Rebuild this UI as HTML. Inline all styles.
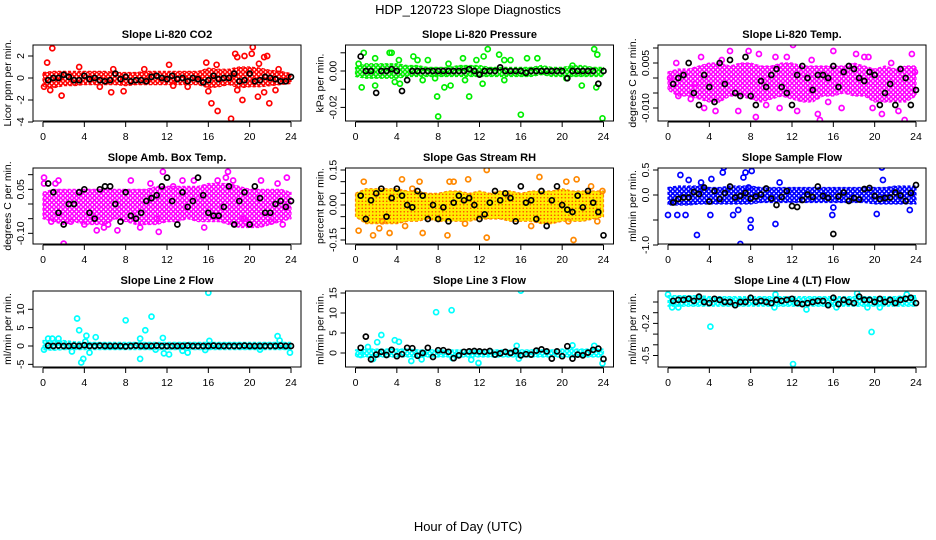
<!DOCTYPE html>
<html><head><meta charset="utf-8"><title>HDP_120723 Slope Diagnostics</title>
<style>
html,body{margin:0;padding:0;background:#fff;}
svg{display:block;font-family:"Liberation Sans",sans-serif;}
</style></head>
<body>
<svg id="chart" width="936" height="540" viewBox="0 0 936 540" xmlns="http://www.w3.org/2000/svg">
<defs>
<pattern id="pat-red" width="4.5" height="4.5" patternUnits="userSpaceOnUse"><circle cx="2.25" cy="2.25" r="1.7" fill="none" stroke="#ff0000" stroke-width="1.5"/></pattern>
<pattern id="pat-green" width="4.5" height="4.5" patternUnits="userSpaceOnUse"><circle cx="2.25" cy="2.25" r="1.7" fill="none" stroke="#00ee00" stroke-width="1.5"/><rect x="2" y="2" width="0.6" height="0.6" fill="#444"/></pattern>
<pattern id="pat-magenta" width="4.5" height="4.5" patternUnits="userSpaceOnUse"><circle cx="2.25" cy="2.25" r="1.7" fill="none" stroke="#ff00ff" stroke-width="1.5"/></pattern>
<pattern id="pat-orange" width="3.5" height="3.5" patternUnits="userSpaceOnUse"><rect width="3.5" height="3.5" fill="#ffee00"/><circle cx="1.75" cy="1.75" r="0.8" fill="#ff4400"/></pattern>
<pattern id="pat-blue" width="4.5" height="4.5" patternUnits="userSpaceOnUse"><circle cx="2.25" cy="2.25" r="1.7" fill="none" stroke="#0000ff" stroke-width="1.6"/></pattern>
<pattern id="pat-cyan" width="4.5" height="4.5" patternUnits="userSpaceOnUse"><circle cx="2.25" cy="2.25" r="1.7" fill="none" stroke="#00ffff" stroke-width="1.6"/></pattern>
</defs>
<text x="468" y="14" text-anchor="middle" font-size="13">HDP_120723  Slope Diagnostics</text>
<text x="468" y="531" text-anchor="middle" font-size="13">Hour of Day (UTC)</text>
</svg>
<script>
// shared x categories (hours) for black summary points
const blackHours = [0.5,1,1.5,2,2.5,3,3.5,4,4.5,5,5.5,6,6.5,7,7.5,8,8.5,9,9.5,10,10.5,11,11.5,12,12.5,13,13.5,14,14.5,15,15.5,16,16.5,17,17.5,18,18.5,19,19.5,20,20.5,21,21.5,22,22.5,23,23.5,24];
const xTicks = [0,4,8,12,16,20,24];

// Panel 1: CO2
const p1Lo = [-0.8,-0.9,-0.7,-0.7,-0.6,-0.6,-0.6,-0.6,-0.7,-0.6,-0.6,-0.6,-0.6,-0.6,-0.6,-0.6,-0.9,-0.8,-0.6,-0.9,-0.8,-0.8,-0.7,-0.6,-0.5];
const p1Hi = [0.5,0.6,0.6,0.6,0.6,0.6,0.6,0.5,0.5,0.5,0.6,0.6,0.6,0.6,0.6,0.6,0.9,0.8,0.8,1.0,1.0,0.9,0.7,0.6,0.4];
const p1Pts = [[0.9,2.7],[0.4,1.4],[0.1,-0.8],[1.8,-1.6],[0.7,-1.1],[3.5,1.0],[6.6,-1.3],[6.8,0.8],[7.8,-1.2],[12.2,1.2],[12.6,-0.7],[15.8,1.4],[16,-1.2],[16.3,-2.3],[16.9,-3.0],[16.8,1.2],[18.2,-3.7],[18.6,2.2],[18.8,-1.1],[19.3,-2.0],[19.5,2.0],[20.3,2.8],[20.2,2.2],[20.8,-1.7],[20.9,1.3],[21.4,1.9],[21.7,2.0],[21.4,-1.3],[21.9,-2.3],[22.5,-1.1],[22.8,0.8],[18.8,1.9],[5.5,-0.8],[9.8,0.8],[14,-0.8]];
const p1Black = [-0.2,0,0,0.3,0.1,-0.2,-0.2,0.2,-0.1,0,-0.2,-0.3,-0.2,0.4,-0.1,0.1,-0.3,-0.2,-0.2,-0.3,0.1,0.2,0,-0.1,0.2,-0.1,0,-0.3,0,-0.1,-0.4,-0.2,0.2,-0.1,0,0,0.4,-0.3,-0.2,0.4,-0.3,-0.2,0.1,0,-0.1,-0.3,-0.3,0.1];
const p1Ticks = [-4,-2,0,2];
const p1Labels = ["-4","-2","0","2"];

// Panel 2: Pressure
const p2Lo = [-0.003,-0.004,-0.004,-0.004,-0.004,-0.003,-0.003,-0.003,-0.003,-0.003,-0.003,-0.003,-0.003,-0.003,-0.003,-0.003,-0.003,-0.003,-0.002,-0.003,-0.003,-0.003,-0.003,-0.003,-0.003];
const p2Hi = [0.002,0.004,0.004,0.004,0.004,0.003,0.003,0.002,0.002,0.002,0.003,0.003,0.003,0.002,0.002,0.002,0.002,0.002,0.003,0.002,0.002,0.003,0.003,0.002,0.002];
const p2Pts = [[0.8,0.010],[0.3,0.004],[0.6,-0.009],[1.9,0.007],[1.9,-0.008],[3.3,0.010],[3.5,0.010],[3.8,-0.006],[4.2,0.006],[4.3,-0.007],[5.6,0.008],[6.0,0.006],[6.5,-0.005],[7.0,0.006],[7.7,-0.004],[7.9,-0.014],[8.0,-0.025],[8.6,-0.009],[9.0,0.004],[9.2,-0.008],[10.4,0.007],[10.6,-0.005],[11.0,-0.014],[11.7,0.006],[12.3,-0.007],[12.4,0.008],[12.8,0.012],[13.9,0.009],[14.4,0.006],[14.4,-0.005],[15.0,0.006],[16.0,-0.024],[16.6,0.007],[17.6,0.007],[20.4,-0.004],[21.0,0.003],[21.9,-0.008],[23.1,0.012],[23.4,0.009],[23.3,-0.009],[23.9,-0.026]];
const p2Black = [0.008,0,0,-0.012,0,0,0.001,0,-0.011,-0.005,0,0,0,0,0,0,0,0,0,0,0,0.001,0,-0.002,0,0,0,0.002,0,0,0,0,-0.001,0,0,0,0,0,0,0,-0.004,0,0,0,0,0,-0.007,0];
const p2Ticks = [-0.02,-0.01,0,0.01];
const p2Labels = ["-0.02","","0.00",""];

// Panel 3: Li-820 Temp
const p3Lo = [-0.004,-0.006,-0.006,-0.007,-0.008,-0.008,-0.006,-0.006,-0.007,-0.008,-0.007,-0.006,-0.007,-0.008,-0.008,-0.006,-0.006,-0.005,-0.006,-0.006,-0.008,-0.008,-0.008,-0.008,-0.006];
const p3Hi = [0.002,0.003,0.003,0.004,0.005,0.005,0.004,0.005,0.005,0.004,0.004,0.005,0.005,0.004,0.004,0.004,0.004,0.004,0.005,0.004,0.003,0.004,0.003,0.004,0.004];
const p3Pts = [[0.8,0.005],[2.2,-0.007],[3.2,0.007],[3.5,-0.010],[4.6,-0.011],[5.2,0.006],[6.0,0.009],[6.8,-0.011],[7.8,0.009],[8.5,-0.013],[8.8,0.008],[9.5,-0.009],[10.4,0.007],[10.8,-0.010],[11.5,0.007],[12.1,0.011],[12.5,-0.011],[13.4,-0.016],[13.9,0.006],[14.5,-0.012],[14.7,-0.014],[15.5,-0.008],[16.0,0.009],[16.8,-0.010],[18.2,0.008],[19.0,0.007],[19.4,0.007],[19.8,-0.010],[20.7,-0.012],[21.6,0.005],[22.3,-0.011],[22.9,-0.014],[23.6,0.008],[23.9,0.002],[0.2,0.000],[1.0,-0.006],[2.6,-0.002]];
const p3Black = [-0.002,0,0.001,0.005,-0.005,-0.009,0.001,-0.003,-0.008,0.005,-0.002,0.006,-0.005,-0.006,0.007,-0.006,-0.009,-0.001,-0.003,0.001,0.003,-0.003,-0.005,-0.009,0.001,0.004,0,-0.004,0.001,0.001,0,0.004,-0.003,0.002,0.004,0.003,0,-0.001,0.002,0.001,-0.009,-0.005,-0.002,-0.009,0.003,0,-0.009,-0.004];
const p3Ticks = [-0.010,-0.005,0,0.005,0.010];
const p3Labels = ["-0.010","","","0.005",""];

// Panel 4: Amb Box Temp
const p4Lo = [-0.05,-0.06,-0.07,-0.06,-0.07,-0.07,-0.07,-0.05,-0.06,-0.07,-0.07,-0.07,-0.06,-0.06,-0.05,-0.06,-0.06,-0.06,-0.07,-0.08,-0.08,-0.08,-0.07,-0.06,-0.05];
const p4Hi = [0.04,0.05,0.05,0.05,0.05,0.05,0.05,0.05,0.05,0.05,0.05,0.06,0.06,0.06,0.06,0.06,0.07,0.07,0.07,0.06,0.05,0.05,0.05,0.05,0.04];
const p4Pts = [[0.1,0.09],[0.1,0.07],[1.2,0.07],[1.5,0.08],[0.8,-0.06],[2.0,-0.135],[2.7,-0.06],[4.0,-0.07],[5.2,-0.09],[5.9,-0.08],[6.3,-0.07],[7.2,-0.09],[8.5,0.08],[9.4,-0.08],[10.4,0.07],[11.0,-0.05],[11.2,-0.095],[11.6,0.11],[12.6,0.06],[13.5,0.08],[14.6,0.08],[15.6,-0.08],[16.9,0.08],[17.7,0.09],[17.9,0.11],[18.4,0.08],[19.4,-0.05],[19.6,-0.06],[21.1,0.08],[22.1,-0.06],[22.7,0.07],[23.2,-0.07],[23.6,0.09]];
const p4Black = [0.07,0.04,-0.03,-0.07,0,0,0.04,0.05,-0.03,-0.05,0.05,0.06,0.06,0,-0.06,0.04,-0.04,-0.05,-0.03,0.01,0.02,0.03,0.06,0.09,0.01,-0.07,0.04,-0.01,0.01,0.09,0.03,-0.03,-0.04,-0.04,-0.01,0.06,-0.07,0.01,0.04,-0.07,0.06,0.02,-0.03,-0.03,0,0.01,-0.01,0.01];
const p4Ticks = [-0.10,-0.05,0,0.05,0.10];
const p4Labels = ["-0.10","","","0.05",""];

// Panel 5: Gas Stream RH
const p5Lo = [-0.05,-0.08,-0.08,-0.08,-0.08,-0.07,-0.07,-0.06,-0.07,-0.07,-0.07,-0.07,-0.06,-0.06,-0.06,-0.07,-0.07,-0.07,-0.08,-0.08,-0.07,-0.07,-0.07,-0.06,-0.05];
const p5Hi = [0.05,0.07,0.07,0.07,0.07,0.06,0.06,0.05,0.05,0.06,0.06,0.05,0.06,0.05,0.06,0.06,0.05,0.06,0.06,0.06,0.07,0.06,0.06,0.06,0.06];
const p5Pts = [[0.3,-0.11],[0.8,0.10],[1.7,-0.13],[2.3,-0.10],[2.6,-0.07],[3.3,-0.12],[4.5,0.11],[4.8,-0.09],[5.5,0.07],[6.2,0.10],[6.5,-0.12],[8.9,-0.13],[9.1,0.10],[9.5,0.10],[10.9,0.11],[10.6,-0.08],[12.7,0.15],[12.7,-0.14],[17.8,0.12],[17.0,-0.09],[20.4,0.10],[20.6,-0.07],[21.1,-0.15],[21.4,0.11],[22.8,0.08],[23.4,-0.07],[23.9,0.06]];
const p5Black = [0.04,-0.06,0.02,0.05,0.07,-0.05,0.03,0.07,0.04,0,-0.01,0.06,0.04,-0.06,0,-0.06,-0.01,-0.07,0.01,0.04,0.02,0.03,0,-0.06,-0.04,0.01,0.06,0.02,0.05,0.03,-0.07,0.08,0.01,0.02,-0.06,0.06,-0.09,0.02,0.08,0,-0.02,-0.03,0.04,-0.01,0.06,0.01,-0.03,-0.13];
const p5Ticks = [-0.15,-0.10,-0.05,0,0.05,0.10,0.15];
const p5Labels = ["-0.15","","","0.00","","","0.15"];

// Panel 6: Sample Flow
const p6Lo = [-0.2,-0.2,-0.2,-0.18,-0.18,-0.18,-0.18,-0.18,-0.18,-0.15,-0.15,-0.15,-0.15,-0.15,-0.15,-0.15,-0.15,-0.15,-0.15,-0.15,-0.18,-0.18,-0.18,-0.18,-0.18];
const p6Hi = [0.15,0.18,0.18,0.18,0.15,0.15,0.18,0.18,0.18,0.15,0.15,0.15,0.15,0.15,0.15,0.15,0.15,0.15,0.15,0.15,0.15,0.15,0.18,0.18,0.18];
const p6Pts = [[0,-0.4],[1.2,0.4],[0.9,-0.4],[1.7,-0.4],[2.0,0.3],[2.8,-0.8],[3.2,0.25],[4.1,-0.4],[4.2,0.32],[5.3,0.45],[5.4,0.55],[6.3,-0.4],[6.8,-0.3],[7.0,-0.98],[7.3,0.35],[7.5,0.45],[7.8,0.15],[8.0,-0.5],[8.0,-0.65],[8.1,0.48],[10.4,-0.58],[10.8,0.25],[15.9,-0.4],[16.0,-0.25],[20.2,-0.38],[20.7,0.55],[20.8,0.3],[23.4,-0.3]];
const p6Black = [-0.15,-0.08,-0.05,-0.05,0.06,0.02,0.15,-0.13,0.08,-0.08,0.04,0.17,-0.05,-0.02,0.04,-0.07,-0.03,0.01,0.13,-0.07,-0.2,-0.04,0.08,-0.22,-0.24,-0.1,0.01,-0.04,0.17,-0.02,-0.06,-0.78,-0.03,0.05,-0.12,-0.06,-0.09,0.12,0.14,-0.02,-0.08,-0.06,-0.05,0.05,-0.01,-0.12,0.04,0.2];
const p6Ticks = [-1,-0.5,0,0.5];
const p6Labels = ["-1.0","","0.0","0.5"];

// Panel 7: Line 2 Flow
const p7Lo = [-1,-1.2,-1,-1,-1,-1,-1,-1,-1,-1,-1,-1,-1,-1,-1,-1,-1,-1,-1,-1,-1,-1,-1,-1,-1];
const p7Hi = [1.5,1.5,1.5,1.2,1,1,1,1,1,1,1,1,1,1,1,1,1,1,1,1,1,1,1,1,1];
const p7Pts = [[0.1,-1],[0.5,2],[0.9,2],[1.5,2],[2.8,-1.5],[3.3,7.5],[3.5,4.3],[3.7,-4.5],[3.9,-3.5],[4.2,2.8],[4.5,-1.8],[4.1,1.2],[5.1,2.4],[8.0,7],[9.4,2],[9.4,-3.5],[9.9,4.3],[10.5,8],[10.9,-1],[11.6,2.2],[11.7,-2],[12.2,-2.3],[13.5,-1.3],[14.0,-1.8],[15.7,-1.1],[16.0,14.5],[16.1,1.4],[22.7,2.7],[23.9,-1.8],[21.0,-1],[22.9,1.5]];
const p7Black = [0.1,0,0.1,0,0,0.1,0,0.2,0,0,0.1,0,0,0,0,-0.1,0,0.1,0,0,0,0.1,0,0,0,0,0,0.1,0,0,0,0,0.1,0,0,0,0,0,0.1,0,0,0,0,0,0,0.1,0,0];
const p7Ticks = [-5,0,5,10];
const p7Labels = ["-5","0","5","10"];

// Panel 8: Line 3 Flow
const p8Lo = [-1,-1,-1,-1,-1,-1,-1,-1,-1,-1,-1,-1,-1,-1,-1,-1,-1,-1,-1,-1,-1,-1,-1,-1,-1];
const p8Hi = [0.8,1,1,1,1,1,0.8,0.8,0.8,0.8,0.8,0.8,0.8,0.8,0.8,0.8,0.8,0.8,0.8,0.8,1,1,1,1,1];
const p8Pts = [[0.5,-0.5],[1.2,1.5],[1.7,-1.5],[2.1,2.7],[2.5,4.5],[3.8,3.2],[4.2,2.8],[5.4,-2],[6.4,-1.6],[7.8,10.2],[9.3,10.7],[9.4,-1.3],[11.2,-1.7],[11.9,-2.5],[15.6,1.8],[15.8,-1.4],[16.0,15.6],[23.9,-2.6],[23.1,1.8],[21.0,1.9]];
const p8Black = [1.3,4.1,-1.6,-0.4,0.3,-0.5,0.8,-0.8,-0.3,1.3,1.2,-0.7,0,1.3,-1,0.7,0.7,0.3,-1.3,-0.6,0.3,0.4,0.5,0.4,0.3,0.5,-0.4,-0.1,0.3,0,0.5,-0.6,-0.3,-0.4,0.6,0.9,0.4,-1.4,0.4,-0.8,1.7,-1.4,-0.4,-0.6,0.1,0.8,1.1,-1.5];
const p8Ticks = [0,5,10,15];
const p8Labels = ["0","5","10","15"];

// Panel 9: Line 4 (LT) Flow
const p9Lo = [-0.04,-0.04,-0.04,-0.04,-0.04,-0.04,-0.04,-0.04,-0.04,-0.04,-0.04,-0.04,-0.04,-0.04,-0.04,-0.04,-0.04,-0.04,-0.04,-0.04,-0.04,-0.04,-0.04,-0.04,-0.04];
const p9Hi = [0.06,0.06,0.06,0.06,0.05,0.05,0.05,0.05,0.05,0.05,0.05,0.05,0.05,0.05,0.05,0.05,0.05,0.05,0.05,0.05,0.05,0.05,0.05,0.06,0.06];
const p9Pts = [[0,0.07],[0.4,-0.05],[1,-0.05],[4.1,-0.23],[10.3,-0.05],[10.4,0.07],[13.4,-0.07],[16.3,-0.05],[18.3,0.08],[19.7,-0.28],[19.3,-0.05],[23.1,0.07],[12.1,-0.58],[20.5,-0.05]];
const p9Black = [0.01,0.02,0.02,0.03,0.01,0.05,0,-0.01,0.03,0.02,0,0,-0.03,0,0,0.04,0,0.01,0,-0.01,0.02,0.01,0.02,0.03,-0.01,-0.02,-0.01,0,0.01,0.01,-0.03,0.04,-0.02,0.02,0,-0.01,0.05,0.02,0.02,0,0.03,0,0.02,-0.01,0.02,0.03,0.04,-0.01];
const p9Ticks = [-0.5,-0.4,-0.3,-0.2,-0.1,0];
const p9Labels = ["-0.5","","","-0.2","",""];

const NS = "http://www.w3.org/2000/svg";
const svg = document.getElementById('chart');
function mk(tag, attrs, parent) {
  const el = document.createElementNS(NS, tag);
  for (const k in attrs) el.setAttribute(k, attrs[k]);
  (parent || svg).appendChild(el);
  return el;
}

const panels = [
  {c:0,r:0,title:"Slope Li-820 CO2",yl:"Licor ppm per min.",z:33,k:11,col:"#ff0000",pat:"pat-red",lo:p1Lo,hi:p1Hi,pts:p1Pts,blk:p1Black,ticks:p1Ticks,labels:p1Labels,slug:"co2"},
  {c:1,r:0,title:"Slope Li-820 Pressure",yl:"kPa per min.",z:26,k:1820,col:"#00ee00",pat:"pat-green",lo:p2Lo,hi:p2Hi,pts:p2Pts,blk:p2Black,ticks:p2Ticks,labels:p2Labels,slug:"pressure"},
  {c:2,r:0,title:"Slope Li-820 Temp.",yl:"degrees C per min.",z:33,k:3000,col:"#ff00ff",pat:"pat-magenta",lo:p3Lo,hi:p3Hi,pts:p3Pts,blk:p3Black,ticks:p3Ticks,labels:p3Labels,slug:"li820-temp"},
  {c:0,r:1,title:"Slope Amb. Box Temp.",yl:"degrees C per min.",z:36,k:293.3,col:"#ff00ff",pat:"pat-magenta",lo:p4Lo,hi:p4Hi,pts:p4Pts,blk:p4Black,ticks:p4Ticks,labels:p4Labels,slug:"amb-box-temp"},
  {c:1,r:1,title:"Slope Gas Stream RH",yl:"percent per min.",z:37,k:233.3,col:"#ff8800",pat:"pat-orange",lo:p5Lo,hi:p5Hi,pts:p5Pts,blk:p5Black,ticks:p5Ticks,labels:p5Labels,slug:"gas-rh"},
  {c:2,r:1,title:"Slope Sample Flow",yl:"ml/min per min.",z:27,k:50,col:"#0000ff",pat:"pat-blue",lo:p6Lo,hi:p6Hi,pts:p6Pts,blk:p6Black,ticks:p6Ticks,labels:p6Labels,slug:"sample-flow"},
  {c:0,r:2,title:"Slope Line 2 Flow",yl:"ml/min per min.",z:55,k:3.67,col:"#00ffff",pat:"pat-cyan",lo:p7Lo,hi:p7Hi,pts:p7Pts,blk:p7Black,ticks:p7Ticks,labels:p7Labels,slug:"line2-flow"},
  {c:1,r:2,title:"Slope Line 3 Flow",yl:"ml/min per min.",z:62,k:4,col:"#00ffff",pat:"pat-cyan",lo:p8Lo,hi:p8Hi,pts:p8Pts,blk:p8Black,ticks:p8Ticks,labels:p8Labels,slug:"line3-flow"},
  {c:2,r:2,title:"Slope Line 4 (LT) Flow",yl:"ml/min per min.",z:11,k:107,col:"#00ffff",pat:"pat-cyan",lo:p9Lo,hi:p9Hi,pts:p9Pts,blk:p9Black,ticks:p9Ticks,labels:p9Labels,slug:"line4-flow"}
];

panels.forEach(p => {
  const x0 = 43 + 312.5 * p.c;
  const top = 45 + 123 * p.r;
  const H = 76;
  const left = x0 - 10, right = x0 + 258;
  const xs = h => x0 + h * (248 / 24);
  const ys = v => top + p.z - v * p.k;
  const g = mk('g', {});
  
  
  const clipId = 'clip-' + p.slug;
  const cp = mk('clipPath', {id: clipId}, g);
  mk('rect', {x: left, y: top, width: right - left, height: H}, cp);
  const plot = mk('g', {'clip-path': 'url(#' + clipId + ')'}, g);

  let d = '';
  p.hi.forEach((v, i) => { d += (i ? 'L' : 'M') + xs(i).toFixed(1) + ',' + ys(v).toFixed(1); });
  for (let i = p.lo.length - 1; i >= 0; i--) d += 'L' + xs(i).toFixed(1) + ',' + ys(p.lo[i]).toFixed(1);
  const band = mk('path', {d: d + 'Z', fill: 'url(#' + p.pat + ')', stroke: p.col, 'stroke-width': 1.2, 'stroke-dasharray': '3 2', 'stroke-linejoin': 'round'}, plot);
  
  

  p.pts.forEach(pt => {
    const c = mk('circle', {cx: xs(pt[0]), cy: ys(pt[1]), r: 2.5, fill: 'none', stroke: p.col, 'stroke-width': 1.7}, plot);
    
    
  });
  p.blk.forEach((v, i) => {
    const c = mk('circle', {cx: xs(blackHours[i]), cy: ys(v), r: 2.5, fill: 'none', stroke: '#000', 'stroke-width': 1.7}, plot);
    
    
  });

  const box = mk('rect', {x: left, y: top, width: right - left, height: H, fill: 'none', stroke: '#000', 'stroke-width': 1}, g);
  
  

  const t = mk('text', {x: (left + right) / 2, y: top - 7, 'text-anchor': 'middle', 'font-size': 11, 'font-weight': 'bold'}, g);
  t.textContent = p.title;
  
  

  const xa = mk('g', {}, g);
  
  
  mk('line', {x1: xs(0), x2: xs(24), y1: top + H + 1, y2: top + H + 1, stroke: '#000'}, xa);
  xTicks.forEach(h => {
    mk('line', {x1: xs(h), x2: xs(h), y1: top + H + 1, y2: top + H + 6, stroke: '#000'}, xa);
    const l = mk('text', {x: xs(h), y: top + H + 19, 'text-anchor': 'middle', 'font-size': 10.5}, xa);
    l.textContent = h;
  });

  const ya = mk('g', {}, g);
  
  
  const tv = p.ticks.map(ys);
  mk('line', {x1: left, x2: left, y1: Math.min(...tv), y2: Math.max(...tv), stroke: '#000'}, ya);
  p.ticks.forEach((v, i) => {
    const y = ys(v);
    mk('line', {x1: left - 5, x2: left, y1: y, y2: y, stroke: '#000'}, ya);
    if (p.labels[i]) {
      const l = mk('text', {x: left - 9, y: y, 'text-anchor': 'middle', 'font-size': 10.5, transform: 'rotate(-90 ' + (left - 9) + ' ' + y + ')'}, ya);
      l.textContent = p.labels[i];
    }
  });
  const yt = mk('text', {x: left - 22, y: top + H / 2, 'text-anchor': 'middle', 'font-size': 10.5, transform: 'rotate(-90 ' + (left - 22) + ' ' + (top + H / 2) + ')'}, g);
  yt.textContent = p.yl;
  
  
});
</script>
</body></html>
